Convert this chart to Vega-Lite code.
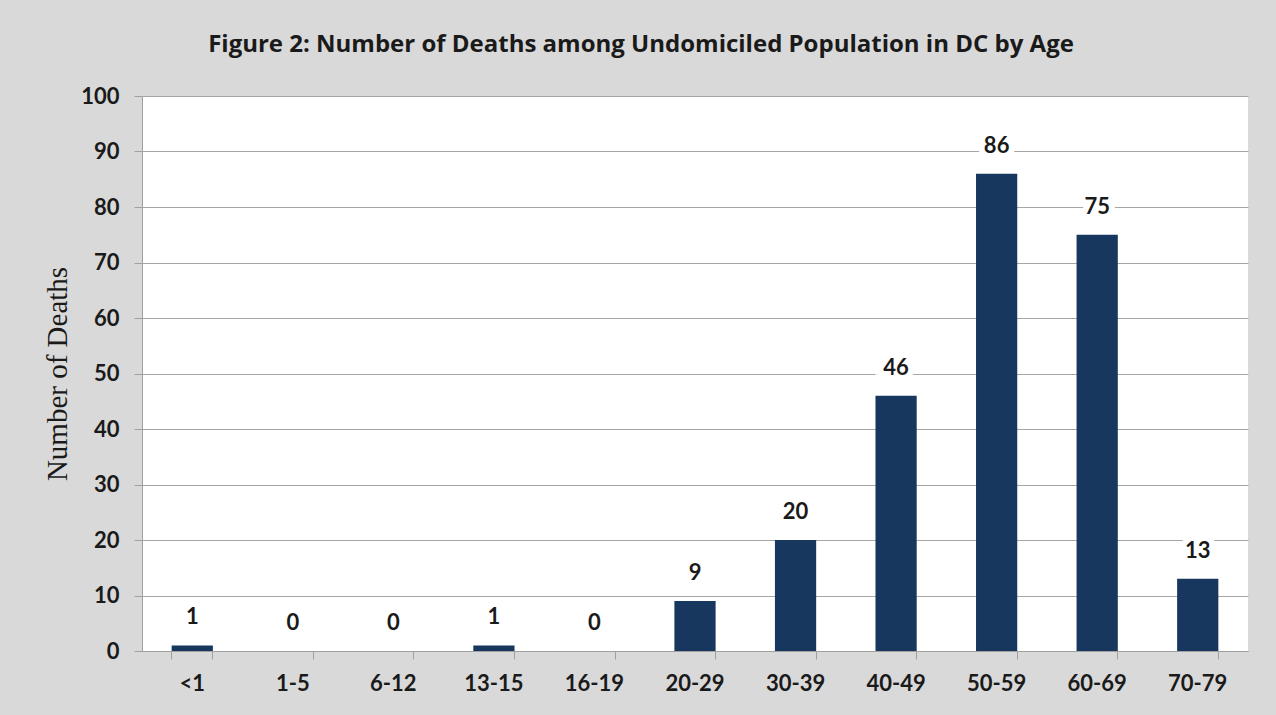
{
  "$schema": "https://vega.github.io/schema/vega-lite/v6.json",
  "autosize": {"type": "none"},
  "width": 1106,
  "height": 555,
  "padding": {"left": 142, "top": 96, "right": 28, "bottom": 64},
  "background": "#d9d9d9",
  "title": {
    "text": "Figure 2: Number of Deaths among Undomiciled Population in DC by Age",
    "font": "Open Sans",
    "fontSize": 24,
    "fontWeight": "bold",
    "color": "#1a1a1a",
    "anchor": "middle",
    "frame": "group",
    "baseline": "alphabetic",
    "offset": 9,
    "dx": -54
  },
  "config": {
    "view": {"fill": "white", "stroke": null},
    "axis": {
      "labelFont": "Lato",
      "labelFontSize": 22,
      "labelFontWeight": "bold",
      "labelColor": "#1a1a1a",
      "domainColor": "#a0a0a0",
      "tickColor": "#a0a0a0",
      "gridColor": "#a6a6a6",
      "tickSize": 8
    }
  },
  "data": {
    "values": [
      {"age": "<1", "deaths": 1},
      {"age": "1-5", "deaths": 0},
      {"age": "6-12", "deaths": 0},
      {"age": "13-15", "deaths": 1},
      {"age": "16-19", "deaths": 0},
      {"age": "20-29", "deaths": 9},
      {"age": "30-39", "deaths": 20},
      {"age": "40-49", "deaths": 46},
      {"age": "50-59", "deaths": 86},
      {"age": "60-69", "deaths": 75},
      {"age": "70-79", "deaths": 13}
    ]
  },
  "encoding": {
    "x": {
      "field": "age",
      "type": "nominal",
      "sort": null,
      "scale": {"paddingInner": 0.59, "paddingOuter": 0.295},
      "axis": {
        "title": null,
        "labelAngle": 0,
        "labelPadding": 14,
        "bandPosition": 1,
        "tickExtra": true,
        "grid": false
      }
    },
    "y": {
      "field": "deaths",
      "type": "quantitative",
      "scale": {"domain": [0, 100]},
      "axis": {
        "values": [0, 10, 20, 30, 40, 50, 60, 70, 80, 90, 100],
        "title": "Number of Deaths",
        "titleFont": "Liberation Serif",
        "titleFontSize": 29,
        "titleFontWeight": "normal",
        "titleColor": "#1a1a1a",
        "titlePadding": 8,
        "labelPadding": 15,
        "grid": true
      }
    }
  },
  "layer": [
    {"mark": {"type": "bar", "color": "#17375e"}},
    {
      "mark": {
        "type": "text",
        "font": "Lato",
        "fontSize": 22,
        "fontWeight": "bold",
        "baseline": "alphabetic",
        "dy": -21,
        "stroke": "white",
        "strokeWidth": 12,
        "strokeJoin": "miter",
        "color": "white"
      },
      "encoding": {"text": {"field": "deaths", "type": "quantitative"}}
    },
    {
      "mark": {
        "type": "text",
        "font": "Lato",
        "fontSize": 22,
        "fontWeight": "bold",
        "baseline": "alphabetic",
        "dy": -21,
        "color": "#1a1a1a"
      },
      "encoding": {"text": {"field": "deaths", "type": "quantitative"}}
    }
  ]
}
